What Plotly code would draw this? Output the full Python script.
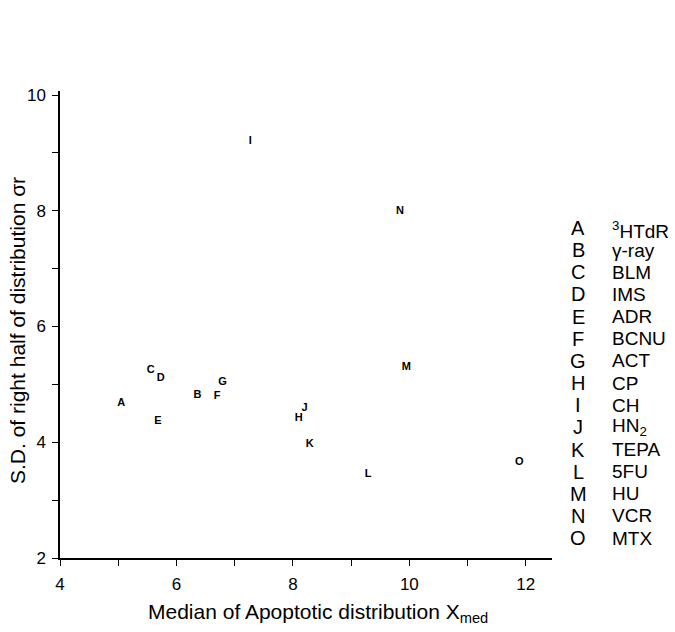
import plotly.graph_objects as go

letters = ["A", "B", "C", "D", "E", "F", "G", "H", "I", "J", "K", "L", "M", "N", "O"]
x_med = [5.05, 6.36, 5.56, 5.73, 5.68, 6.70, 6.79, 8.10, 7.27, 8.20, 8.29, 9.29, 9.95, 9.84, 11.89]
sigma_r = [4.68, 4.82, 5.24, 5.10, 4.37, 4.80, 5.04, 4.41, 9.21, 4.58, 3.97, 3.45, 5.30, 7.99, 3.65]
agents = ["<sup>3</sup>HTdR", "γ-ray", "BLM", "IMS", "ADR", "BCNU", "ACT", "CP", "CH",
          "HN<sub>2</sub>", "TEPA", "5FU", "HU", "VCR", "MTX"]

x_ticks = [4, 6, 8, 10, 12]
y_ticks = [2, 4, 6, 8, 10]

x_title = "Median of Apoptotic distribution X<sub>med</sub>"
y_title = "S.D. of right half of distribution σr"

FONT = "Liberation Sans, Arial, Helvetica, sans-serif"

fig = go.Figure()
fig.add_trace(go.Scatter(
    x=x_med, y=sigma_r, mode="text",
    text=["<b>%s</b>" % s for s in letters],
    textposition="middle center",
    textfont=dict(family=FONT, size=11, color="black"),
    hoverinfo="skip", showlegend=False,
))

L, R, T, B = 60, 123, 91, 74
W, H = 675, 632
pw, ph = W - L - R, H - T - B


def px_x(px):
    return (px - L) / pw


def px_y(py):
    return (H - B - py) / ph


# legend key as annotations
top_px, step_px = 228, 22.15
for i, (let, name) in enumerate(zip(letters, agents)):
    py = top_px + i * step_px
    fig.add_annotation(xref="paper", yref="paper", x=px_x(578), y=px_y(py),
                       text=let, showarrow=False, xanchor="center", yanchor="middle",
                       font=dict(family=FONT, size=20, color="black"))
    fig.add_annotation(xref="paper", yref="paper", x=px_x(610), y=px_y(py + (2 if i == 0 else 0)),
                       text=name, showarrow=False, xanchor="left", yanchor="middle",
                       font=dict(family=FONT, size=19, color="black"))

# axis titles
fig.add_annotation(xref="paper", yref="paper", x=px_x(318), y=px_y(613),
                   text=x_title, showarrow=False, xanchor="center", yanchor="middle",
                   font=dict(family=FONT, size=21, color="black"))
fig.add_annotation(xref="paper", yref="paper", x=px_x(17), y=px_y(331),
                   text=y_title, showarrow=False, xanchor="center", yanchor="middle",
                   textangle=-90, font=dict(family=FONT, size=21, color="black"))

axis_common = dict(
    showline=True, linecolor="black", linewidth=1.5, mirror=False,
    ticks="outside", ticklen=6, tickwidth=1, tickcolor="black",
    showgrid=False, zeroline=False, automargin=False,
    tickfont=dict(family=FONT, size=17, color="black"),
    minor=dict(ticks="outside", ticklen=6, tickwidth=1, tickcolor="black", dtick=1, showgrid=False),
)

fig.update_xaxes(range=[4, 12.45], tickvals=x_ticks, ticktext=[str(v) for v in x_ticks],
                 ticklabelstandoff=4, **axis_common)
fig.update_yaxes(range=[2, 10.07], tickvals=y_ticks, ticktext=[str(v) for v in y_ticks],
                 ticklabelstandoff=3, **axis_common)

fig.update_layout(
    width=W, height=H,
    margin=dict(l=L, r=R, t=T, b=B),
    plot_bgcolor="white", paper_bgcolor="white",
    showlegend=False,
)

fig.write_html("out.html")
